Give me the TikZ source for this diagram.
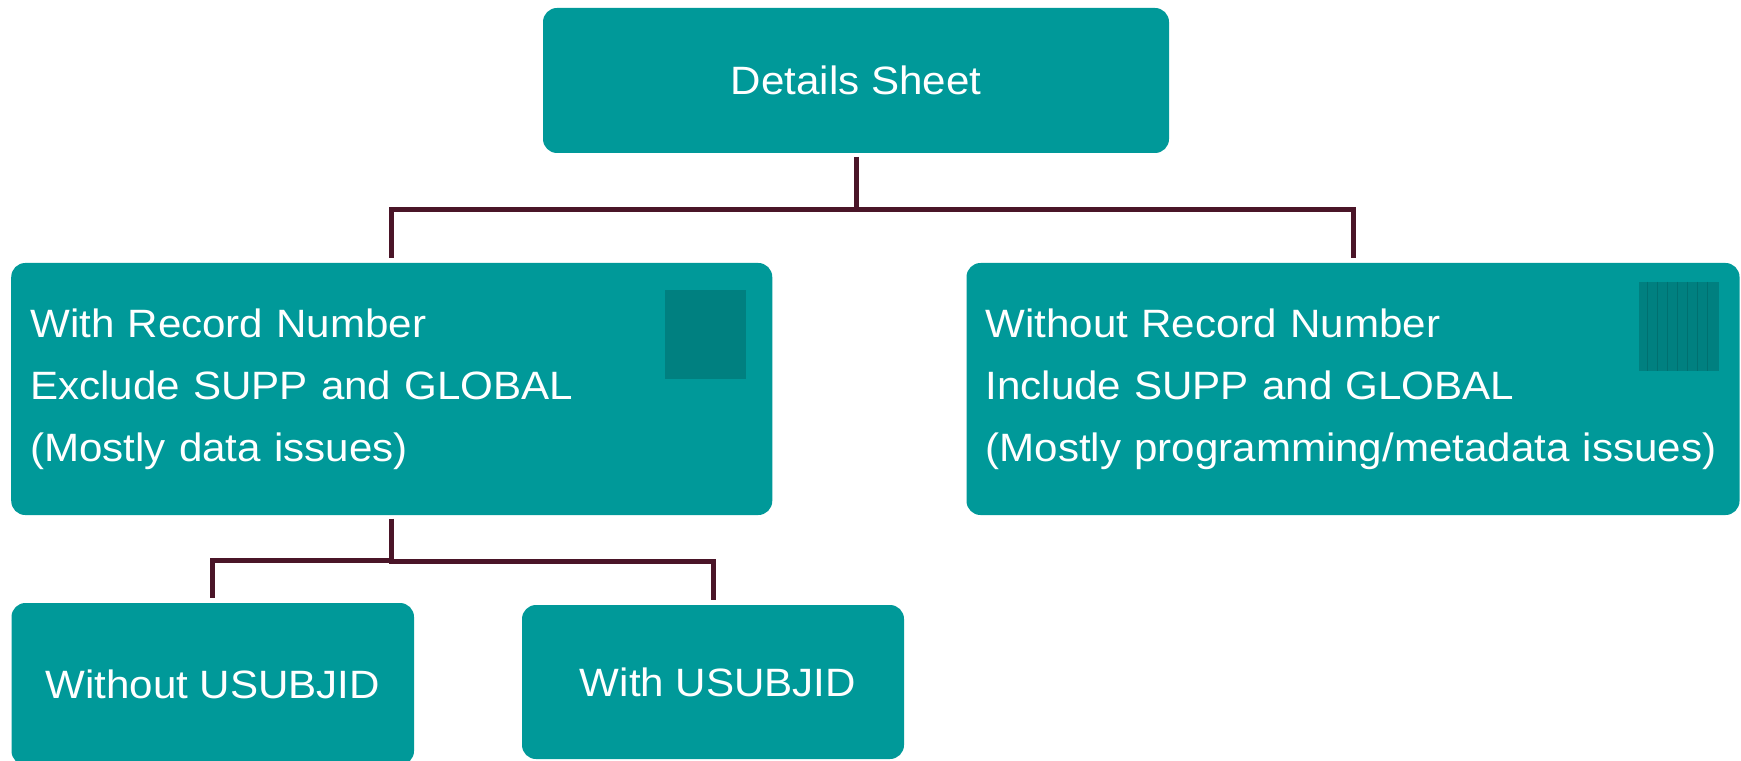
\documentclass[tikz,border=0pt]{standalone}
\usepackage{fontspec}
\setmainfont{Liberation Sans}[FakeStretch=1.065]
\usepackage{tikz}
\usetikzlibrary{positioning}
\definecolor{boxteal}{RGB}{0,153,153}
\definecolor{sqteal}{RGB}{0,128,128}
\definecolor{sqline}{RGB}{0,112,112}
\definecolor{linkred}{RGB}{74,21,40}

\begin{document}
\begin{tikzpicture}[boxstyle/.style={fill=boxteal,rounded corners=0.28cm,text=white,inner sep=0pt,
		font=\fontsize{22.5}{35.4}\selectfont},
	bigbox/.style={boxstyle,align=left,inner xsep=0.38cm,minimum height=5.04cm},
	sqstyle/.style={fill=sqteal,inner sep=0pt,minimum width=1.62cm,minimum height=1.77cm},
	linkstyle/.style={draw=linkred,line width=2.85pt,shorten <=0.07cm,shorten >=0.1cm}]
\useasboundingbox (0,0) rectangle (34.82,-15.22);

%details sheet
\node[boxstyle,minimum width=12.52cm,minimum height=2.9cm] (top) at (17.12,-1.61) {Details Sheet};

%with record number
\node[bigbox,text width=14.46cm] (left) at (7.835,-7.78) {With Record Number\\Exclude SUPP and GLOBAL\\(Mostly data issues)};
\node[sqstyle,below left=0.54cm and 0.52cm of left.north east] (lsq) {};

%without record number
\node[bigbox,text width=14.70cm] (right) at (27.06,-7.78) {Without Record Number\\Include SUPP and GLOBAL\\(Mostly programming/metadata issues)};
\node[sqstyle,minimum width=1.6cm,below left=0.38cm and 0.41cm of right.north east] (rsq) {};
\foreach\x in {1,...,7}{
	\draw[sqline,line width=0.6pt] ([xshift=\x*0.2cm-0.02cm]rsq.north west) -- ([xshift=\x*0.2cm-0.02cm]rsq.south west);}

%usubjid
\node[boxstyle,minimum width=8.05cm,minimum height=3.24cm] (bl) at (4.255,-13.68) {Without USUBJID};
\node[boxstyle,minimum width=7.64cm,minimum height=3.08cm] (bm) at (14.26,-13.64) {\hspace{0.2cm}With USUBJID};

%links
\draw[linkstyle] (top.south) -- ++(0,-1.13) -| (left.north);
\draw[linkstyle] (top.south) -- ++(0,-1.13) -| (right.north);
\draw[linkstyle] (left.south) -- ++(0,-0.9) -| (bl.north);
\draw[linkstyle] (left.south) -- ++(0,-0.92) -| (bm.north);
\end{tikzpicture}
\end{document}
